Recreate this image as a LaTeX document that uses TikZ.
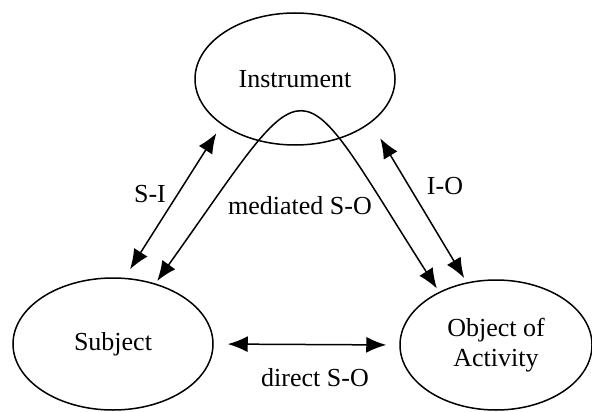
\documentclass[tikz,border=0pt]{standalone}
\usepackage{fontspec}
\setmainfont{Liberation Serif}
\usetikzlibrary{shapes.geometric,arrows.meta,positioning}

\begin{document}
\begin{tikzpicture}[x=0.5pt,y=-0.5pt,every node/.style={font=\fontsize{13}{15}\selectfont},
	elem/.style={draw, ellipse, line width=0.75pt, inner sep=0pt, minimum width=100pt, minimum height=66pt, align=center},
	link/.style={{Latex[length=10pt,width=8pt]}-{Latex[length=10pt,width=8pt]}, line width=0.75pt}]
	\useasboundingbox (0,0) rectangle (592,411);
	\node[elem] (instr) at (295,79) {Instrument};
	\node[elem] (subj) at (113,344) {Subject};
	\node[elem, minimum width=96pt, minimum height=65pt] (obj) at (496,345) {Object of\\Activity};
	\draw[link, shorten <=5pt, shorten >=5pt] (subj.80) -- (instr.212);
	\draw[link, shorten <=9pt, shorten >=2.5pt] (instr.330) -- (obj.115);
	\draw[link, shorten <=1.5pt, shorten >=2pt] (subj.55) .. controls (316,58) and (290,58) .. (obj.137);
	\draw[link, shorten <=7pt, shorten >=6.5pt] (subj.east) -- (obj.west);
	\node (si) at (150,194) {S-I};
	\node (io) at (445,186) {I-O};
	\node (med) at (300,206) {mediated S-O};
	\node (dir) at (315,378) {direct S-O};
\end{tikzpicture}
\end{document}
